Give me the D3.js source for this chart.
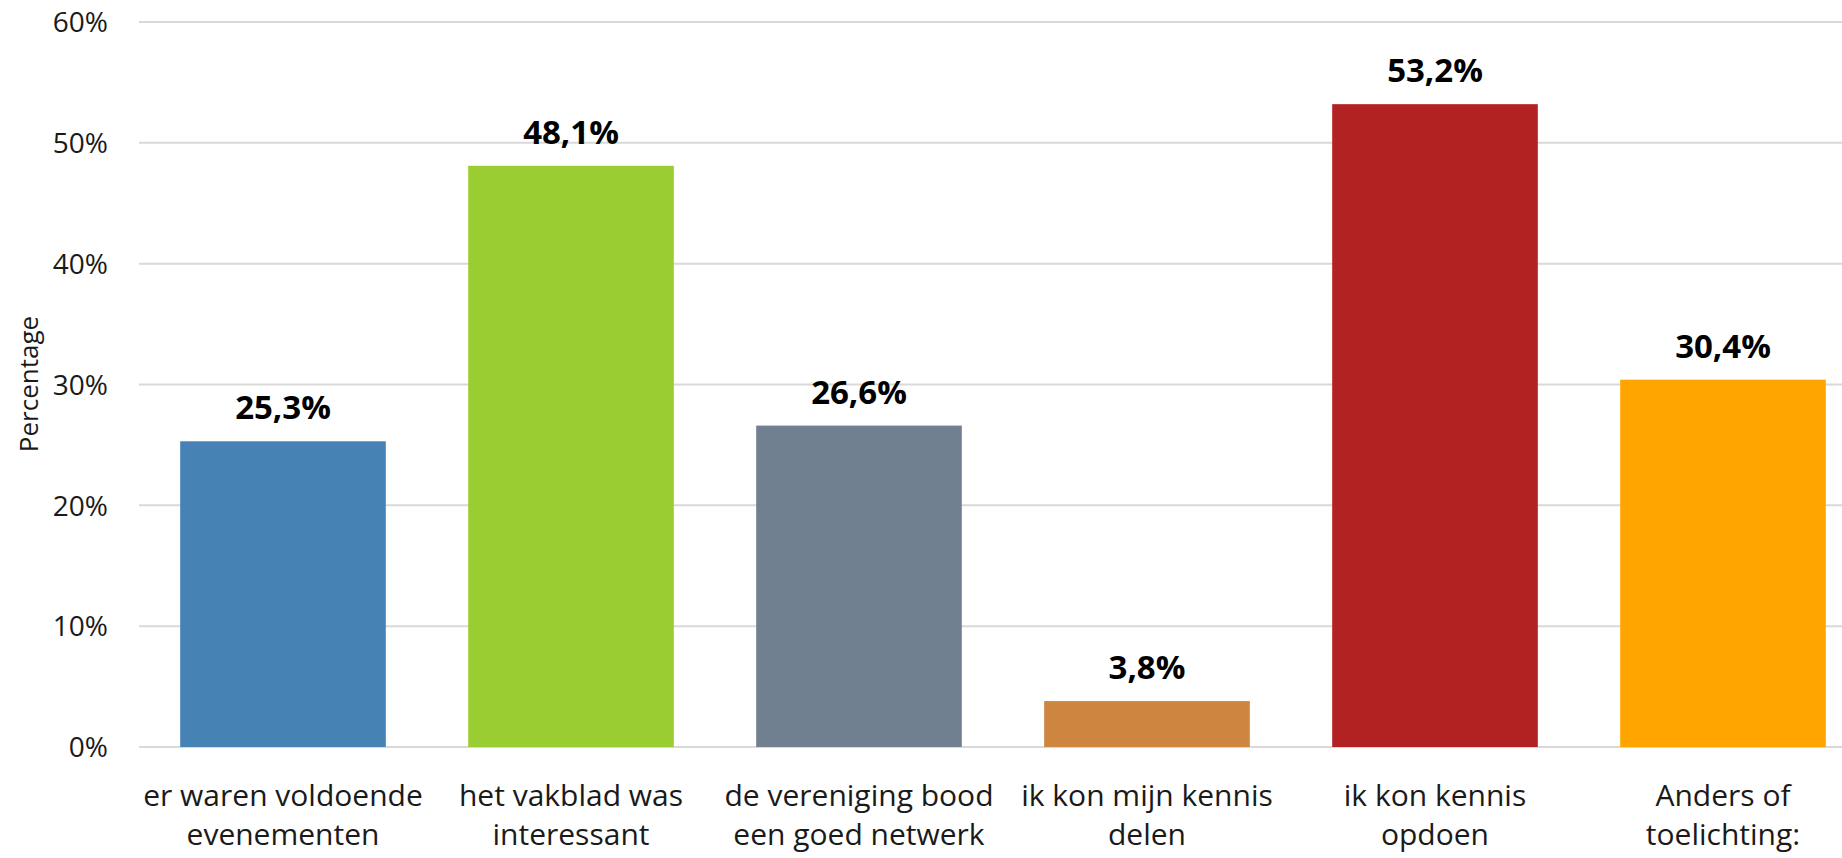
<!DOCTYPE html>
<html>
<head>
<meta charset="utf-8">
<script src="https://cdn.jsdelivr.net/npm/d3@7"></script>
<style>
  html, body { margin: 0; padding: 0; background: #fff; overflow: hidden; }
  svg { display: block; font-family: "Open Sans", "Noto Sans", sans-serif; }
</style>
</head>
<body>
<div id="chart"></div>
<script>
const categories = [
  ['er waren voldoende', 'evenementen'],
  ['het vakblad was', 'interessant'],
  ['de vereniging bood', 'een goed netwerk'],
  ['ik kon mijn kennis', 'delen'],
  ['ik kon kennis', 'opdoen'],
  ['Anders of', 'toelichting:']
];
const values = [25.3, 48.1, 26.6, 3.8, 53.2, 30.4];
const barColors = ['#4682B4', '#9ACD32', '#708090', '#CD853F', '#B22222', '#FFA500'];
const yTicks = [0, 10, 20, 30, 40, 50, 60];

const width = 1842, height = 858;
const margin = { top: 22, left: 139, bottom: 111 };
const plotRight = 139 + 6 * 288; // last band runs past the window edge

const svg = d3.select('#chart').append('svg')
  .attr('width', width)
  .attr('height', height);

const keys = categories.map((c, i) => i);

const x = d3.scaleBand()
  .domain(keys)
  .range([margin.left, plotRight])
  .paddingInner(0.286)
  .paddingOuter(0.143);

const y = d3.scaleLinear()
  .domain([0, 60])
  .range([height - margin.bottom, margin.top]);

// gridlines
svg.append('g')
  .selectAll('line')
  .data(yTicks)
  .join('line')
  .attr('x1', margin.left)
  .attr('x2', width)
  .attr('y1', d => y(d))
  .attr('y2', d => y(d))
  .attr('stroke', '#d9d9d9')
  .attr('stroke-width', 2);

// y axis labels
const yAxis = svg.append('g')
  .attr('transform', `translate(${margin.left - 31},0)`)
  .call(d3.axisLeft(y).tickValues(yTicks).tickSize(0).tickPadding(0).tickFormat(d => d + '%'));
yAxis.select('.domain').remove();
yAxis.selectAll('text')
  .attr('font-size', 28)
  .attr('font-family', '"Open Sans", sans-serif')
  .attr('fill', '#1a1a1a')
  .attr('dy', '0.35em');

svg.append('text')
  .attr('transform', `translate(38,${384}) rotate(-90)`)
  .attr('text-anchor', 'middle')
  .attr('font-size', 26)
  .attr('fill', '#1a1a1a')
  .text('Percentage');

// bars
svg.append('g')
  .selectAll('rect')
  .data(values)
  .join('rect')
  .attr('x', (d, i) => x(i))
  .attr('width', x.bandwidth())
  .attr('y', d => y(d))
  .attr('height', d => y(0) - y(d))
  .attr('fill', (d, i) => barColors[i]);

// value labels
svg.append('g')
  .selectAll('text')
  .data(values)
  .join('text')
  .attr('x', (d, i) => x(i) + x.bandwidth() / 2)
  .attr('y', d => y(d) - 22)
  .attr('text-anchor', 'middle')
  .attr('font-size', 33)
  .attr('font-weight', 'bold')
  .attr('fill', '#000')
  .text(d => d.toFixed(1).replace('.', ',') + '%');

// category labels
const catG = svg.append('g')
  .selectAll('text')
  .data(categories)
  .join('text')
  .attr('x', (d, i) => x(i) + x.bandwidth() / 2)
  .attr('y', y(0) + 59)
  .attr('text-anchor', 'middle')
  .attr('font-size', 30)
  .attr('fill', '#1a1a1a');

catG.selectAll('tspan')
  .data(d => d)
  .join('tspan')
  .attr('x', function () { return d3.select(this.parentNode).attr('x'); })
  .attr('dy', (d, i) => i === 0 ? 0 : 39)
  .text(d => d);
</script>
</body>
</html>
